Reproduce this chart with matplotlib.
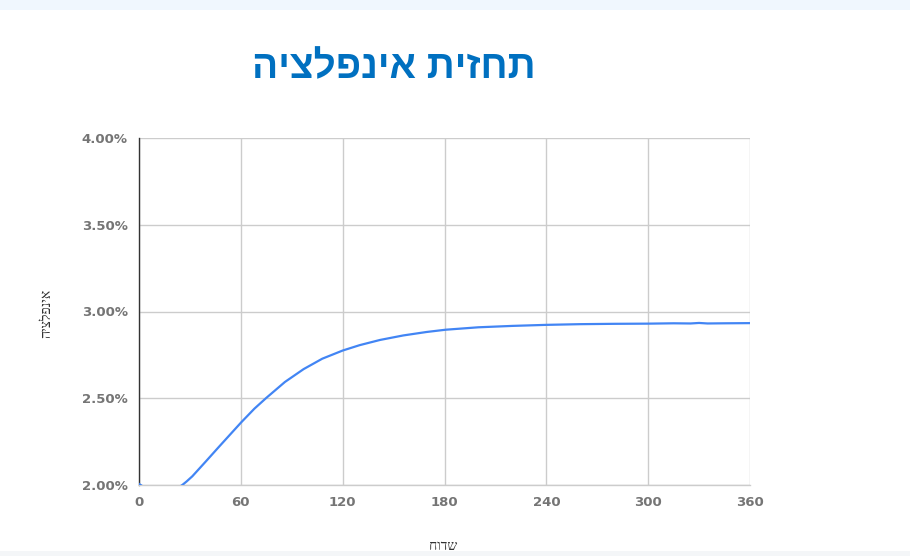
import matplotlib
matplotlib.use("Agg")
import matplotlib.pyplot as plt
from matplotlib.ticker import FuncFormatter
from matplotlib.patches import Rectangle

title_text = "תחזית אינפלציה"
x_label = "חודש"
y_label = "אינפלציה"

months = [0, 5, 10, 15, 20, 25.5, 28, 31.4, 39.3, 47.1, 55, 60.3, 68, 75, 86, 97, 108,
          120, 130, 142, 155.7, 169.5, 180.7, 200, 220, 240, 260, 280, 300, 315,
          325, 330, 335, 345, 360]
inflation = [2.006, 1.975, 1.955, 1.95, 1.965, 2.0, 2.02, 2.05, 2.135, 2.22, 2.305,
             2.362, 2.44, 2.502, 2.594, 2.668, 2.728, 2.775, 2.806, 2.836, 2.862,
             2.882, 2.895, 2.909, 2.917, 2.923, 2.927, 2.929, 2.930, 2.932, 2.931,
             2.934, 2.931, 2.932, 2.933]

x_ticks = [0, 60, 120, 180, 240, 300, 360]
y_ticks = [2.0, 2.5, 3.0, 3.5, 4.0]


def vis(s):
    return s[::-1]


fig = plt.figure(figsize=(9.10, 5.56), dpi=100)
fig.patch.set_facecolor("white")
fig.patches.append(Rectangle((0, 1 - 10 / 556), 1, 10 / 556, transform=fig.transFigure,
                             facecolor="#f0f7fe", edgecolor="none", zorder=0))
fig.patches.append(Rectangle((0, 0), 1, 5 / 556, transform=fig.transFigure,
                             facecolor="#f4f6f8", edgecolor="none", zorder=0))

ax = fig.add_axes([139 / 910, 71 / 556, 611 / 910, 347 / 556])
ax.plot(months, inflation, color="#4285f4", linewidth=1.6, zorder=3,
        solid_joinstyle="round")
ax.set_xlim(0, 360)
ax.set_ylim(2.0, 4.0)
ax.set_xticks(x_ticks)
ax.set_yticks(y_ticks)
ax.yaxis.set_major_formatter(FuncFormatter(lambda v, p: f"{v:.2f}%"))
ax.grid(True, color="#cccccc", linewidth=1.0, zorder=0)
ax.tick_params(length=0, pad=8, labelcolor="#757575", labelsize=9.5)
for lbl in ax.get_xticklabels() + ax.get_yticklabels():
    lbl.set_fontweight("bold")
    lbl.set_family("DejaVu Sans")
for s in ["top", "right"]:
    ax.spines[s].set_visible(False)
ax.spines["left"].set_color("#333333")
ax.spines["left"].set_linewidth(1.0)
ax.spines["bottom"].set_color("#cccccc")
ax.spines["bottom"].set_linewidth(1.0)

fig.text(394 / 910, 1 - 68 / 556, vis(title_text), ha="center", va="center",
         fontsize=28, fontweight="bold", color="#0070c0",
         family=["Liberation Sans", "DejaVu Sans"])
fig.text(443 / 910, 1 - 546 / 556, x_label, ha="center", va="center",
         fontsize=10, color="#333333", family=["Liberation Serif", "DejaVu Sans"])
fig.text(47 / 910, 1 - 313 / 556, vis(y_label), ha="center", va="center",
         rotation=90, fontsize=10, color="#333333",
         family=["Liberation Serif", "DejaVu Sans"])

fig.savefig("out.png", dpi=100)
